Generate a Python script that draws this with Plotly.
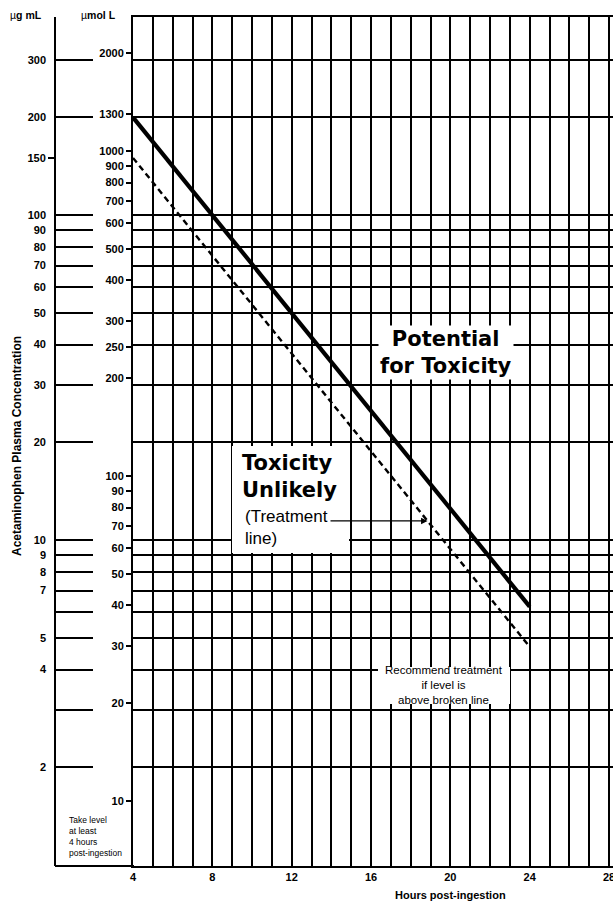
import math
import plotly.graph_objects as go

# ---------------- data ----------------
hours = [4, 24]
standard_line_ugml = [200, 6.25]      # solid line (probable toxicity)
treatment_line_ugml = [150, 4.7]      # broken line (treatment line)

hour_ticks = list(range(4, 29))
hour_labels = [str(h) if h % 4 == 0 else "" for h in hour_ticks]

ug_grid = [300, 200, 100, 90, 80, 70, 60, 50, 40, 30, 20, 10, 9, 8, 7, 6, 5, 4, 3, 2]
ug_labels = ["300", "200", "100", "90", "80", "70", "60", "50", "40", "30",
             "20", "10", "9", "8", "7", "", "5", "4", "", "2"]
ug_short_ticks = [150]
ug_short_labels = ["150"]

umol_ticks = [2000, 1300, 1000, 900, 800, 700, 600, 500, 400, 300, 250, 200,
              100, 90, 80, 70, 60, 50, 40, 30, 20, 10]
umol_labels = [str(v) for v in umol_ticks]

UMOL_PER_UG = 6.35          # µmol/L per µg/mL as drawn on the chart
ug_range = [0.995, 407]

# ---------------- layout helpers ----------------
W, H = 613, 903
T, B = 17, 37
PLOT_BOTTOM = H - B
PLOT_H = H - T - B
X_MAX = 28.2


def px(x):
    return x / W


def py(y):
    return (PLOT_BOTTOM - y) / PLOT_H


FONT = "Liberation Sans, Arial, sans-serif"
HEAVY = "DejaVu Sans, sans-serif"

yr = [math.log10(v) for v in ug_range]
yr_umol = [math.log10(v * UMOL_PER_UG) for v in ug_range]

fig = go.Figure()
fig.add_trace(go.Scatter(x=hours, y=standard_line_ugml, mode="lines",
                         line=dict(color="black", width=4.2),
                         showlegend=False, hoverinfo="skip"))
fig.add_trace(go.Scatter(x=hours, y=treatment_line_ugml, mode="lines",
                         line=dict(color="black", width=2.4, dash="6px,4px"),
                         showlegend=False, hoverinfo="skip"))
# placeholders so the extra scale axes are rendered
for ax in ["y2", "y3", "y4"]:
    fig.add_trace(go.Scatter(x=[], y=[], yaxis=ax, showlegend=False,
                             hoverinfo="skip"))

tick_font = dict(family=FONT, size=11, color="black", weight="bold")

fig.update_layout(
    width=W, height=H,
    margin=dict(l=0, r=0, t=T, b=B, autoexpand=False),
    paper_bgcolor="white", plot_bgcolor="white",
    showlegend=False,
    xaxis=dict(domain=[px(133), 1], range=[4, X_MAX],
               tickvals=hour_ticks, ticktext=hour_labels,
               showgrid=True, gridcolor="black", gridwidth=1.6,
               showline=True, linecolor="black", linewidth=2, mirror=True,
               ticks="", zeroline=False, tickfont=tick_font, automargin=False,
               ticklabeloverflow="allow"),
    yaxis=dict(type="log", range=yr, domain=[0, 1], anchor="x",
               tickvals=ug_grid, showticklabels=False, ticks="",
               showgrid=True, gridcolor="black", gridwidth=1.6,
               showline=True, linecolor="black", linewidth=2, zeroline=False,
               automargin=False),
    yaxis2=dict(type="log", range=yr, overlaying="y", anchor="free",
                position=px(55), side="left",
                tickvals=ug_grid, ticktext=ug_labels,
                ticks="inside", ticklen=37, tickwidth=1.6, tickcolor="black",
                showline=True, linecolor="black", linewidth=1.6,
                showgrid=False, zeroline=False, tickfont=tick_font,
                ticklabelstandoff=6, automargin=False),
    yaxis3=dict(type="log", range=yr_umol, overlaying="y", anchor="free",
                position=px(133), side="left",
                tickvals=umol_ticks, ticktext=umol_labels,
                ticks="outside", ticklen=7, tickwidth=1.6, tickcolor="black",
                showline=False, showgrid=False, zeroline=False,
                tickfont=tick_font, automargin=False),
    yaxis4=dict(type="log", range=yr, overlaying="y", anchor="free",
                position=px(55), side="left",
                tickvals=ug_short_ticks, ticktext=ug_short_labels,
                ticks="outside", ticklen=7, tickwidth=1.6, tickcolor="black",
                showline=False, showgrid=False, zeroline=False,
                tickfont=tick_font, automargin=False),
)

# white areas behind the in-plot texts
fig.add_shape(type="rect", xref="paper", yref="paper",
              x0=px(232), x1=px(349), y0=py(553), y1=py(446),
              fillcolor="white", line_width=0, layer="above")
fig.add_shape(type="rect", xref="paper", yref="paper",
              x0=px(378), x1=px(510), y0=py(704), y1=py(667),
              fillcolor="white", line_width=0, layer="above")
# bottom frame line under the left scale area
fig.add_shape(type="line", xref="paper", yref="paper",
              x0=px(55), x1=px(134), y0=0, y1=0,
              line=dict(color="black", width=2))


def note(text, x, y, size, family=FONT, xanchor="center", align="center", **kw):
    d = dict(text=text, x=px(x), y=py(y), xref="paper", yref="paper",
             xanchor=xanchor, yanchor="middle", align=align, showarrow=False,
             font=dict(family=family, size=size, color="black"))
    d.update(kw)
    return d


ann = [
    note("µ<b>g mL</b>", 26, 15, 10.5),
    note("µ<b>mol L</b>", 98, 15, 10.5),
    note("<b>Acetaminophen Plasma Concentration</b>", 17, 446, 12, textangle=-90),
    note("Take level<br>at least<br>4 hours<br>post-ingestion", 67, 836, 8.5,
         xanchor="left", align="left"),
    note("<b>Hours post-ingestion</b>", 450, 895, 11),
    note("<b>Potential<br>for Toxicity</b>", 446, 352, 21, family=HEAVY,
         bgcolor="white", borderpad=1),
    note("<b>Toxicity<br>Unlikely</b>", 240, 476, 21, family=HEAVY,
         xanchor="left", align="left"),
    note("(Treatment<br>line)", 243, 527, 17, xanchor="left", align="left"),
    note("Recommend treatment<br>if level is<br>above broken line", 444, 685, 11.5),
]

# arrow pointing to the broken line
arrow_hour = 18.85
arrow_val = treatment_line_ugml[0] * (treatment_line_ugml[1] / treatment_line_ugml[0]) ** (
    (arrow_hour - hours[0]) / (hours[1] - hours[0]))
head_px_x = 133 + (arrow_hour - 4) * (W - 133) / (X_MAX - 4)
ann.append(dict(text="", x=arrow_hour, y=math.log10(arrow_val), xref="x", yref="y",
                ax=329 - head_px_x, ay=0,
                showarrow=True, arrowhead=2, arrowsize=1, arrowwidth=1.3,
                arrowcolor="black"))
fig.update_layout(annotations=ann)

fig.write_html("out.html", config={"displayModeBar": False},
               post_script="document.body.style.margin='0px';")
